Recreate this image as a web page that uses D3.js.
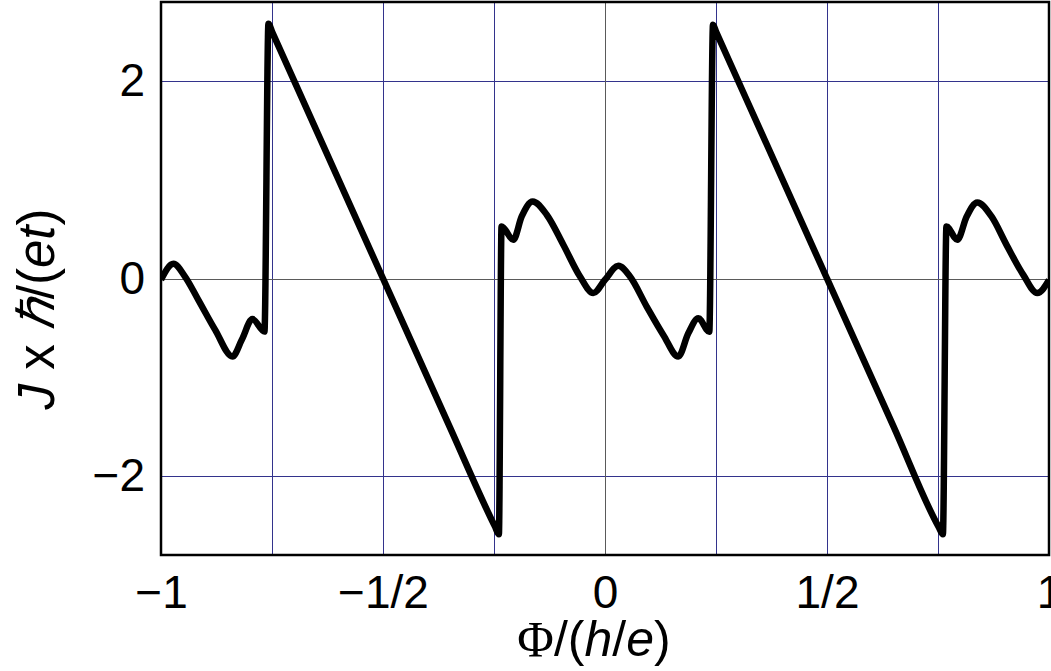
<!DOCTYPE html>
<html>
<head>
<meta charset="utf-8">
<script src="https://cdn.jsdelivr.net/npm/d3@7"></script>
<style>
  body { margin: 0; background: #fff; }
  svg { display: block; }
  .tick text { font-family: "Liberation Sans", Arial, sans-serif; }
</style>
</head>
<body>
<svg width="1051" height="671"></svg>
<script>
// flux (units of h/e) and persistent current J x hbar/(e t)
var phi = [
  -1.000, -0.972, -0.946, -0.916, -0.878, -0.839, -0.818, -0.794, -0.767,
  -0.758, -0.750, -0.650, -0.500, -0.350, -0.248, -0.239,
  -0.233, -0.2065, -0.1876, -0.1628, -0.1313, -0.0939, -0.0563, -0.0264,
  0.000, 0.030, 0.0563, 0.0939, 0.1313, 0.1651, 0.1876, 0.2102, 0.2349,
  0.2432, 0.250, 0.350, 0.500, 0.650, 0.752, 0.761,
  0.769, 0.7935, 0.8146, 0.8385, 0.8705, 0.9043, 0.9421, 0.9736, 1.000
];
var current = [
  -0.013, 0.149, 0.020, -0.216, -0.520, -0.790, -0.620, -0.411, -0.537,
  2.580, 2.500, 1.500, 0.000, -1.500, -2.510, -2.590,
  0.527, 0.392, 0.628, 0.780, 0.646, 0.342, 0.020, -0.148,
  -0.013, 0.128, 0.020, -0.284, -0.571, -0.791, -0.555, -0.403, -0.539,
  2.569, 2.500, 1.500, 0.000, -1.500, -2.520, -2.590,
  0.527, 0.392, 0.628, 0.770, 0.628, 0.341, 0.037, -0.148, -0.013
];

var xTicks = [-1, -0.5, 0, 0.5, 1];
var xTickLabels = ["\u22121", "\u22121/2", "0", "1/2", "1"];
var yTicks = [-2, 0, 2];
var yTickLabels = ["\u22122", "0", "2"];
var xGrid = [-0.75, -0.5, -0.25, 0.25, 0.5, 0.75];
var yGrid = [-2, 2];

const svg = d3.select('svg'),
    margin = {top: 2, right: 2, bottom: 116, left: 161},
    width = 1051 - margin.left - margin.right,
    height = 671 - margin.top - margin.bottom;

var x = d3.scaleLinear().domain([-1, 1]).range([0, width]),
    y = d3.scaleLinear().domain([-2.8, 2.8]).range([height, 0]);

var data = phi.map(function(p, i) { return {x: p, y: current[i]}; });

var line = d3.line()
    .curve(d3.curveMonotoneX)
    .x(function(d) { return x(d.x); })
    .y(function(d) { return y(d.y); });

const g = svg.append("g")
    .attr("transform", "translate(" + margin.left + "," + margin.top + ")");

svg.append("defs").append("clipPath")
    .attr("id", "plotclip")
    .append("rect")
    .attr("width", width)
    .attr("height", height);

// grid lines
g.selectAll(".vgrid")
    .data(xGrid)
    .enter().append("line")
    .attr("class", "vgrid")
    .attr("x1", function(d) { return Math.round(x(d)) + 0.5; })
    .attr("x2", function(d) { return Math.round(x(d)) + 0.5; })
    .attr("y1", 0)
    .attr("y2", height)
    .attr("stroke", "#33338c")
    .attr("stroke-width", 1);

g.selectAll(".hgrid")
    .data(yGrid)
    .enter().append("line")
    .attr("class", "hgrid")
    .attr("x1", 0)
    .attr("x2", width)
    .attr("y1", function(d) { return Math.round(y(d)) + 0.5; })
    .attr("y2", function(d) { return Math.round(y(d)) + 0.5; })
    .attr("stroke", "#33338c")
    .attr("stroke-width", 1);

// zero lines
g.append("line")
    .attr("x1", Math.round(x(0)) + 0.5).attr("x2", Math.round(x(0)) + 0.5)
    .attr("y1", 0).attr("y2", height)
    .attr("stroke", "#5a5a5a").attr("stroke-width", 1);
g.append("line")
    .attr("x1", 0).attr("x2", width)
    .attr("y1", Math.round(y(0)) + 0.5).attr("y2", Math.round(y(0)) + 0.5)
    .attr("stroke", "#5a5a5a").attr("stroke-width", 1);

// the curve
g.append("path")
    .datum(data)
    .attr("clip-path", "url(#plotclip)")
    .attr("fill", "none")
    .attr("stroke", "#000")
    .attr("stroke-width", 6.5)
    .attr("stroke-linejoin", "miter")
    .attr("d", line);

// frame
g.append("rect")
    .attr("width", width)
    .attr("height", height)
    .attr("fill", "none")
    .attr("stroke", "#000")
    .attr("stroke-width", 2.5);

// axes (labels only)
g.append("g")
    .attr("class", "axis axis--x")
    .attr("transform", "translate(0," + height + ")")
    .call(d3.axisBottom(x).tickValues(xTicks).tickSize(0).tickPadding(20)
        .tickFormat(function(d, i) { return xTickLabels[i]; }))
    .call(function(a) { a.select(".domain").remove(); })
    .selectAll("text")
    .attr("font-size", 46)
    .attr("fill", "#000");

g.append("g")
    .attr("class", "axis axis--y")
    .call(d3.axisLeft(y).tickValues(yTicks).tickSize(0).tickPadding(16)
        .tickFormat(function(d, i) { return yTickLabels[i]; }))
    .call(function(a) { a.select(".domain").remove(); })
    .selectAll("text")
    .attr("font-size", 46)
    .attr("fill", "#000");

// x title
var xt = svg.append("text")
    .attr("x", 594)
    .attr("y", 656)
    .attr("text-anchor", "middle")
    .attr("font-family", "Liberation Sans, Arial, sans-serif")
    .attr("font-size", 50)
    .attr("fill", "#000");
xt.append("tspan").attr("font-family", "Liberation Serif, Times New Roman, serif").text("\u03A6");
xt.append("tspan").text("/(");
xt.append("tspan").attr("font-style", "italic").text("h");
xt.append("tspan").text("/");
xt.append("tspan").attr("font-style", "italic").text("e");
xt.append("tspan").text(")");

// y title
var yt = svg.append("text")
    .attr("transform", "translate(54,309) rotate(-90)")
    .attr("text-anchor", "middle")
    .attr("font-family", "Liberation Sans, Arial, sans-serif")
    .attr("font-size", 51)
    .attr("fill", "#000");
yt.append("tspan").attr("font-style", "italic").text("J");
yt.append("tspan").text(" x ");
yt.append("tspan").attr("font-style", "italic").text("\u210F");
yt.append("tspan").text("/(");
yt.append("tspan").attr("font-style", "italic").text("et");
yt.append("tspan").text(")");
</script>
</body>
</html>
